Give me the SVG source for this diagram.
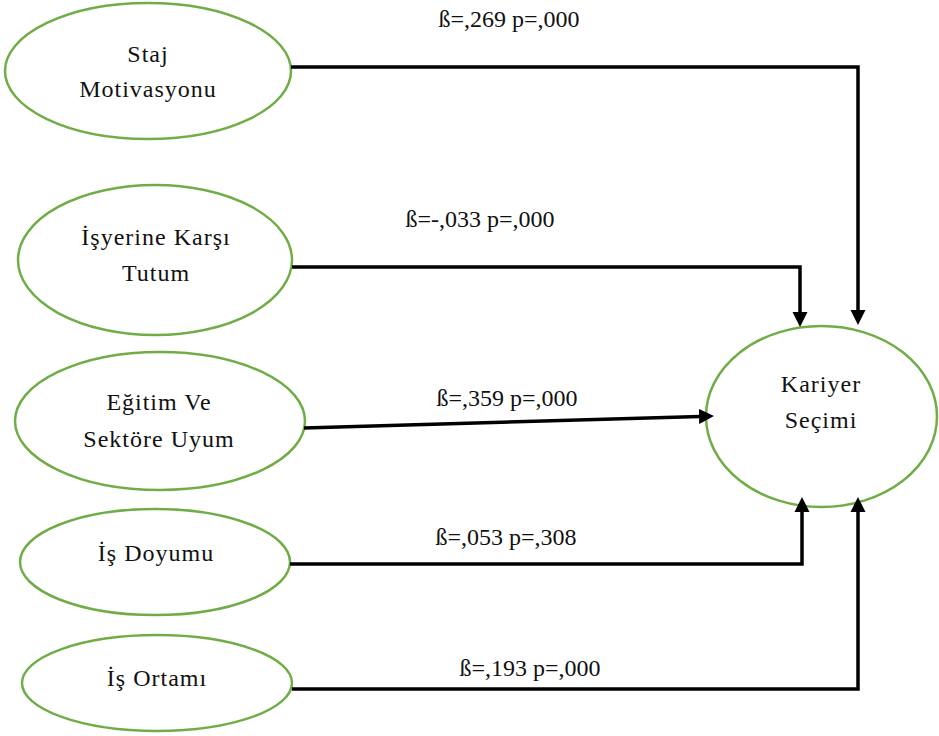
<svg xmlns="http://www.w3.org/2000/svg" width="939" height="736" viewBox="0 0 939 736">
<style>
.node ellipse{fill:#fff;stroke:#70AD47;stroke-width:2.5}
.node text{font-family:"Liberation Serif",serif;font-size:24px;letter-spacing:1px;fill:#111;text-anchor:middle}
.conn path{fill:none;stroke:#000;stroke-width:3.5;marker-end:url(#ah)}
.lbl{font-family:"Liberation Serif",serif;font-size:24px;fill:#111;text-anchor:middle}
</style>
<defs>
<marker id="ah" markerUnits="userSpaceOnUse" markerWidth="16" markerHeight="16" viewBox="0 0 16 16" refX="1" refY="8" orient="auto">
<path d="M0,0.5 L15,8 L0,15.5 Z" fill="#000"/>
</marker>
</defs>
<g id="n-staj" class="node">
<ellipse cx="148" cy="71" rx="143" ry="68"/>
<text x="148" y="62">Staj</text>
<text x="148" y="97">Motivasyonu</text>
</g>
<g id="n-isyerine" class="node">
<ellipse cx="155" cy="260" rx="137" ry="75"/>
<text x="156" y="245">İşyerine Karşı</text>
<text x="156" y="281">Tutum</text>
</g>
<g id="n-egitim" class="node">
<ellipse cx="160" cy="421" rx="145" ry="69"/>
<text x="159" y="410">Eğitim Ve</text>
<text x="159" y="447">Sektöre Uyum</text>
</g>
<g id="n-doyum" class="node">
<ellipse cx="155" cy="562" rx="135" ry="53"/>
<text x="156" y="561">İş Doyumu</text>
</g>
<g id="n-ortam" class="node">
<ellipse cx="157" cy="683" rx="135" ry="48"/>
<text x="157" y="686">İş Ortamı</text>
</g>
<g id="n-kariyer" class="node">
<ellipse cx="821.5" cy="416.5" rx="115.5" ry="90.5"/>
<text x="821" y="392">Kariyer</text>
<text x="821" y="428">Seçimi</text>
</g>
<g id="connectors" class="conn">
<path d="M291,67 H858 V311"/>
<path d="M292,267 H800 V313"/>
<path d="M304,428 L700,416.4"/>
<path d="M290,564 H802 V511"/>
<path d="M292,689 H858 V511"/>
</g>
<g id="labels">
<text class="lbl" x="509" y="27">ß=,269 p=,000</text>
<text class="lbl" x="480" y="227">ß=-,033 p=,000</text>
<text class="lbl" x="507" y="406">ß=,359 p=,000</text>
<text class="lbl" x="506" y="545">ß=,053 p=,308</text>
<text class="lbl" x="530" y="676">ß=,193 p=,000</text>
</g>
</svg>
